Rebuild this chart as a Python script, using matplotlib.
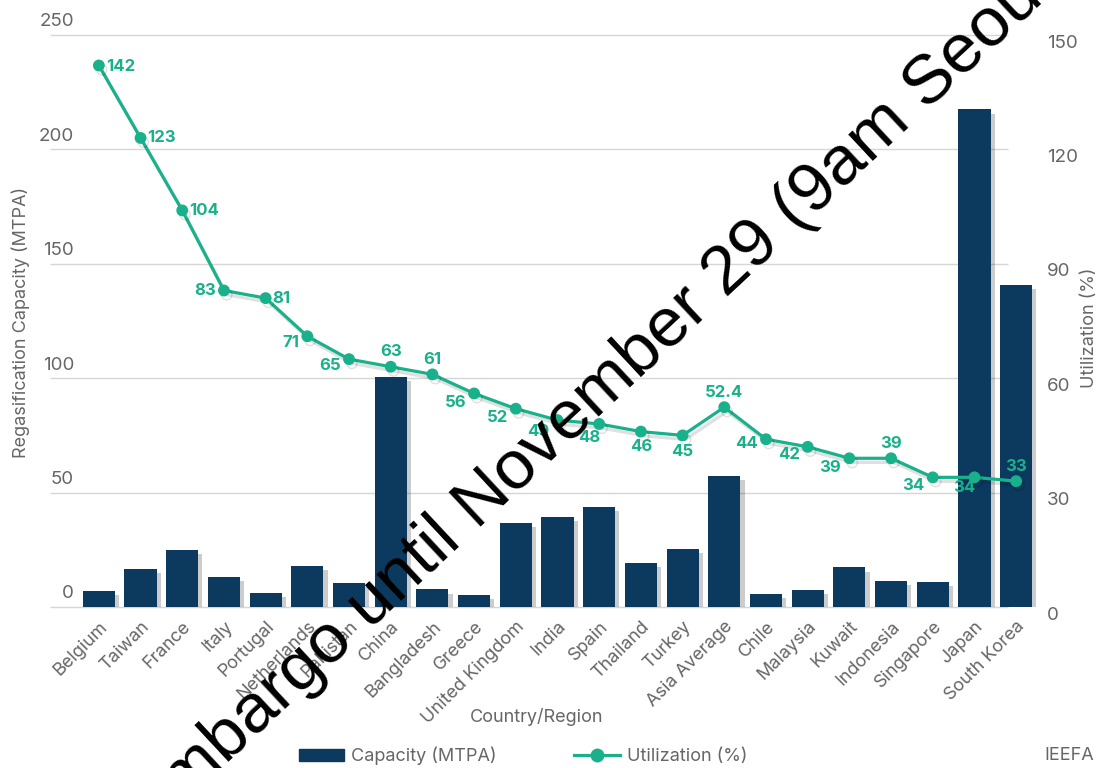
import matplotlib
matplotlib.use("Agg")
import matplotlib.pyplot as plt
import matplotlib.patheffects as pe
from matplotlib.patches import Patch
from matplotlib.lines import Line2D

# Regasification capacity and utilization by country/region
countries = ["Belgium", "Taiwan", "France", "Italy", "Portugal", "Netherlands",
             "Pakistan", "China", "Bangladesh", "Greece", "United Kingdom", "India",
             "Spain", "Thailand", "Turkey", "Asia Average", "Chile", "Malaysia",
             "Kuwait", "Indonesia", "Singapore", "Japan", "South Korea"]
capacity = [7, 16.5, 25, 13, 6, 18, 10.6, 100.5, 7.7, 5.2, 36.7, 39.3, 43.7,
            19.1, 25.3, 57.3, 5.7, 7.4, 17.3, 11.5, 11, 217.5, 140.7]
utilization = [142, 123, 104, 83, 81, 71, 65, 63, 61, 56, 52, 49, 48, 46, 45,
               52.4, 44, 42, 39, 39, 34, 34, 33]
util_labels = ["142", "123", "104", "83", "81", "71", "65", "63", "61", "56", "52",
               "49", "48", "46", "45", "52.4", "44", "42", "39", "39", "34", "34", "33"]
left_ticks = [0, 50, 100, 150, 200, 250]
right_ticks = [0, 30, 60, 90, 120, 150]

NAVY = "#0c395e"
TEAL = "#19b18b"
GREY = "#666666"
GRID = "#d6d6d6"
FONT = "Inter"

# label placement around each point: (ha, dx px, dy px)
label_pos = [("left", 7, -1), ("left", 7, 0), ("left", 7, 0), ("right", -8, 0),
             ("left", 7, 0), ("right", -8, -6), ("right", -8, -6), ("center", 0, 15),
             ("center", 0, 15), ("right", -8, -9), ("right", -8, -9), ("right", -8, -11),
             ("center", -10, -14), ("center", 0, -15), ("center", 0, -16),
             ("center", 0, 15), ("right", -8, -4), ("right", -8, -8), ("right", -8, -9),
             ("center", 0, 15), ("right", -8, -8), ("center", -10, -10), ("center", 0, 15)]

fig = plt.figure(figsize=(10.98, 7.68), dpi=100)
ax = fig.add_axes([78 / 1098, 1 - 607 / 768, 959 / 1098, 572 / 768])
ax2 = ax.twinx()

x = list(range(len(countries)))
ax.set_xlim(-0.5, len(countries) - 0.5)
ax.set_ylim(0, 250)
ax2.set_ylim(0, 150)

# horizontal grid, a bit offset to the left of the plot
ax.hlines(left_ticks, -0.0292, 0.9698, transform=ax.get_yaxis_transform(),
          colors=GRID, linewidth=1, zorder=0.5, clip_on=False)

bars = ax.bar(x, capacity, width=0.77, color=NAVY, zorder=2)
for b in bars:
    b.set_path_effects([pe.SimplePatchShadow(offset=(3, -3), shadow_rgbFace="#000000", alpha=0.2),
                        pe.Normal()])

ax2.plot(x, utilization, color=TEAL, linewidth=2.3, marker="o", markersize=7.5,
         zorder=3, path_effects=[pe.SimpleLineShadow(offset=(2, -3), shadow_color="#000000", alpha=0.12),
                                 pe.Normal()])
for xi, v, txt, (ha, dx, dy) in zip(x, utilization, util_labels, label_pos):
    ax2.annotate(txt, (xi, v), xytext=(dx, dy), textcoords="offset pixels",
                 ha=ha, va="center", color=TEAL, fontsize=12, fontweight="bold",
                 family=FONT, zorder=4)

for a in (ax, ax2):
    for s in a.spines.values():
        s.set_visible(False)
    a.tick_params(length=0)
ax.set_yticks(left_ticks)
ax2.set_yticks(right_ticks)
ax.set_yticklabels([])
ax2.set_yticklabels([])

# axis numbers sit just above (left) / below (right) the grid lines
for v in left_ticks:
    ax.annotate(str(v), (0, v), xycoords=ax.get_yaxis_transform(), xytext=(-4, 13),
                textcoords="offset pixels", ha="right", va="center",
                color=GREY, fontsize=13.5, family=FONT)
for v in right_ticks:
    ax2.annotate(str(v), (1, v), xycoords=ax2.get_yaxis_transform(), xytext=(10, -8),
                 textcoords="offset pixels", ha="left", va="center",
                 color=GREY, fontsize=13.5, family=FONT)

ax.set_xticks(x)
ax.set_xticklabels(countries, rotation=45, ha="right", rotation_mode="anchor",
                   color=GREY, fontsize=13, family=FONT)
ax.tick_params(axis="x", pad=8)

ax.set_ylabel("Regasification Capacity (MTPA)", color=GREY, fontsize=13, family=FONT)
ax.yaxis.set_label_coords(-0.05, 0.498)
ax2.set_ylabel("Utilization (%)", color=GREY, fontsize=13, family=FONT, rotation=90)
ax2.yaxis.set_label_coords(1.0455, 0.488)
ax.set_xlabel("Country/Region", color=GREY, fontsize=13, family=FONT)
ax.xaxis.set_label_coords(0.4786, -0.176)

handles = [Patch(facecolor=NAVY, edgecolor=NAVY),
           Line2D([0], [0], color=TEAL, linewidth=2.3, marker="o", markersize=9)]
fig.legend(handles, ["Capacity (MTPA)", "Utilization (%)"], loc="center",
           bbox_to_anchor=(523 / 1098, 1 - 756 / 768), ncol=2, frameon=False,
           handlelength=2.5, handleheight=0.6, handletextpad=0.4, columnspacing=4.3,
           prop={"family": FONT, "size": 13}, labelcolor=GREY)

fig.text(1 - 4 / 1098, 1 - 756 / 768, "IEEFA", ha="right", va="center",
         color=GREY, fontsize=13, family=FONT)

fig.text(149 / 1098, 1 - 836 / 768, "Embargo until November 29 (9am Seoul time)",
         rotation=43, rotation_mode="anchor", ha="left", va="baseline",
         fontsize=50, family="Liberation Sans", color="black", zorder=10)

fig.savefig("out.png", dpi=100)
